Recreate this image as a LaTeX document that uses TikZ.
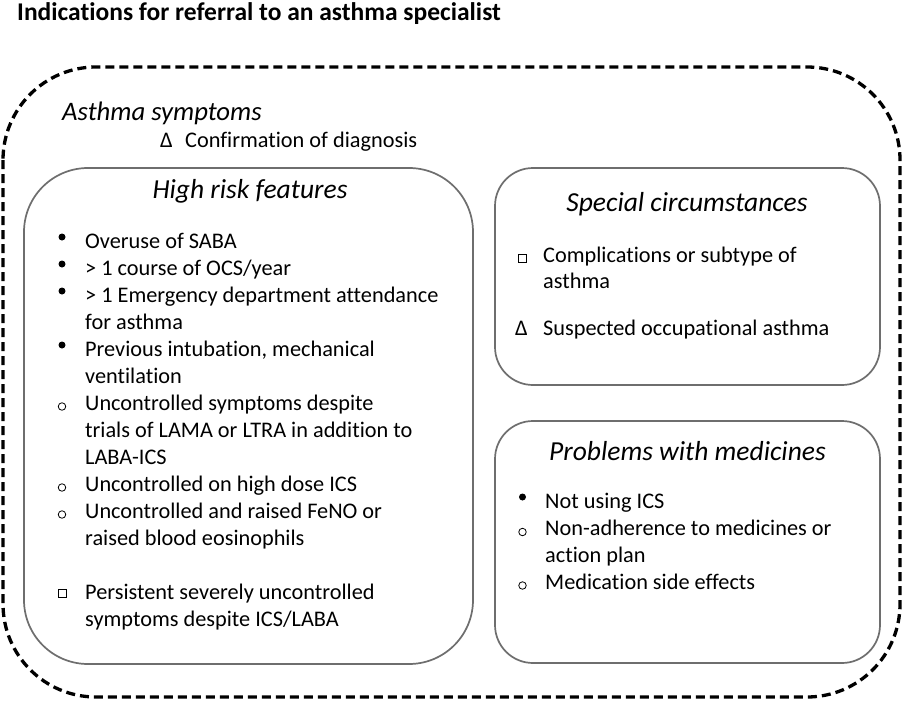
\documentclass[tikz,border=0pt]{standalone}
\usepackage{fontspec}
\setmainfont{Carlito}[Ligatures=CommonOff]
\definecolor{boxgray}{HTML}{6E6E6E}
\begin{document}
\begin{tikzpicture}[x=1pt,y=-1pt,
  box/.style={draw=boxgray, line width=1.7pt},
  txt/.style={anchor=base west, inner sep=0pt, font=\fontsize{22.3}{26}\selectfont},
  head/.style={anchor=base, inner sep=0pt, font=\fontsize{27.5}{32}\selectfont\itshape},
  dotb/.style={circle, fill=black, inner sep=0pt, minimum size=7pt},
  ringb/.style={circle, draw=black, line width=0.8pt, inner sep=0pt, minimum size=7.5pt},
  sqb/.style={rectangle, draw=black, line width=0.8pt, inner sep=0pt, minimum size=8pt},
]
\useasboundingbox (0,0) rectangle (905,701);
\fill[white] (0,0) rectangle (905,701);

% title
\node[anchor=base west, inner sep=0pt, font=\fontsize{25.5}{30}\selectfont\bfseries] (title) at (17,21) {Indications for referral to an asthma specialist};

% outer dashed frame
\draw[line width=3.3pt, dash pattern=on 9pt off 5pt, rounded corners=93pt]
  (3,67) rectangle (900,697);

\node[anchor=base west, inner sep=0pt, font=\fontsize{26.7}{31}\selectfont\itshape] (asym) at (62,120) {Asthma symptoms};
\node[txt] (confd) at (160,147) {Δ};
\node[txt] (conft) at (185,147) {Confirmation of diagnosis};

% boxes
\draw[box, rounded corners=64pt] (24,168) rectangle (473,664);
\draw[box, rounded corners=38pt] (495,168) rectangle (880,385);
\draw[box, rounded corners=38pt] (495,421) rectangle (880,663);

% High risk features
\node[head] (hrh) at (250,198) {High risk features};
\node[dotb] (b1) at (62,237) {};
\node[txt] (h1) at (85,248) {Overuse of SABA};
\node[dotb] (b2) at (62,264) {};
\node[txt] (h2) at (85,275) {> 1 course of OCS/year};
\node[dotb] (b3) at (62,291) {};
\node[txt] (h3a) at (85,302) {> 1 Emergency department attendance};
\node[txt] (h3b) at (85,329) {for asthma};
\node[dotb] (b4) at (62,345) {};
\node[txt] (h4a) at (85,356) {Previous intubation, mechanical};
\node[txt] (h4b) at (85,383) {ventilation};
\node[ringb] (b5) at (62,406.5) {};
\node[txt] (h5a) at (85,410) {Uncontrolled symptoms despite};
\node[txt] (h5b) at (85,437) {trials of LAMA or LTRA in addition to};
\node[txt] (h5c) at (85,464) {LABA-ICS};
\node[ringb] (b6) at (62,487.5) {};
\node[txt] (h6) at (85,491) {Uncontrolled on high dose ICS};
\node[ringb] (b7) at (62,514.5) {};
\node[txt] (h7a) at (85,518) {Uncontrolled and raised FeNO or};
\node[txt] (h7b) at (85,545) {raised blood eosinophils};
\node[sqb] (b8) at (62,593.5) {};
\node[txt] (h8a) at (85,599) {Persistent severely uncontrolled};
\node[txt] (h8b) at (85,626) {symptoms despite ICS/LABA};

% Special circumstances
\node[head] (sch) at (687,211.5) {Special circumstances};
\node[sqb] (s1) at (522.5,258.5) {};
\node[txt] (s1a) at (543,262) {Complications or subtype of};
\node[txt] (s1b) at (543,288) {asthma};
\node[txt] (s2d) at (515,335) {Δ};
\node[txt] (s2) at (543,335) {Suspected occupational asthma};

% Problems with medicines
\node[head] (pmh) at (687.5,460) {Problems with medicines};
\node[dotb] (p1) at (522.5,497) {};
\node[txt] (p1t) at (545,508) {Not using ICS};
\node[ringb] (p2) at (522.5,532) {};
\node[txt] (p2a) at (545,535) {Non-adherence to medicines or};
\node[txt] (p2b) at (545,562) {action plan};
\node[ringb] (p3) at (522.5,585.5) {};
\node[txt] (p3t) at (545,589) {Medication side effects};
\end{tikzpicture}
\end{document}
